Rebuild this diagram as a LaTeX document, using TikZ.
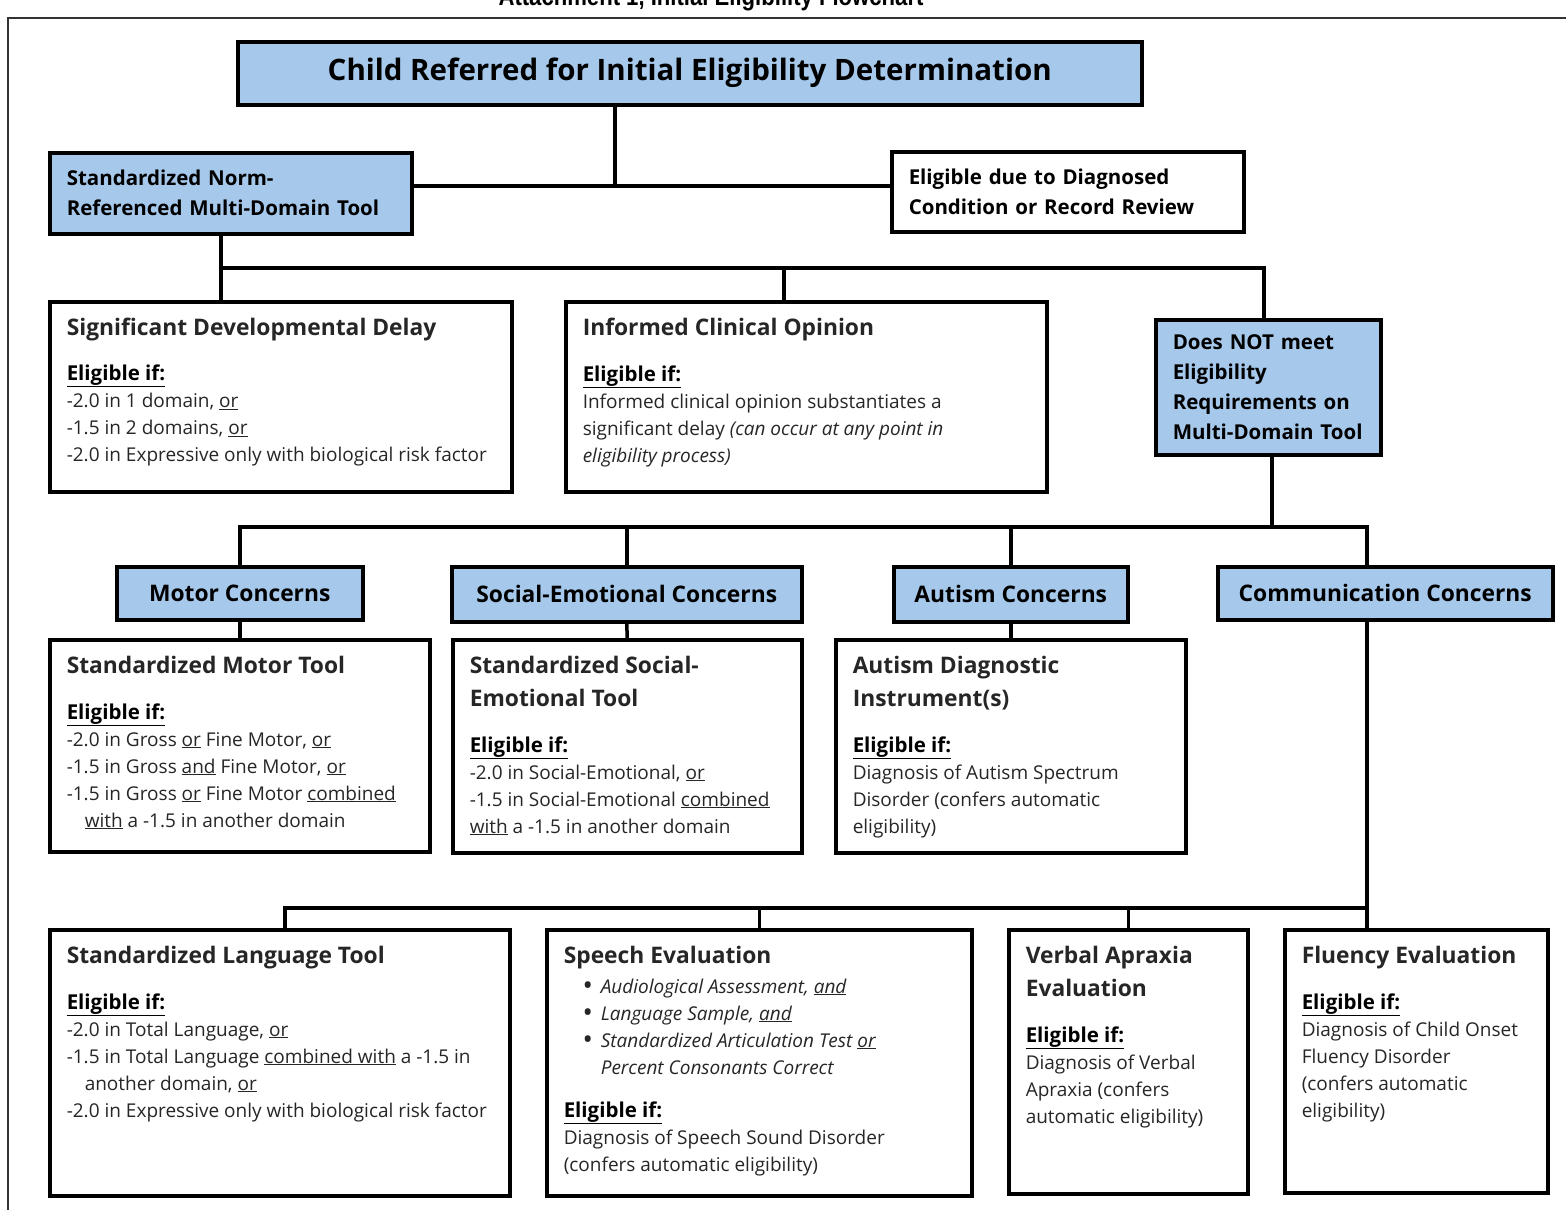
\documentclass[tikz,border=0pt]{standalone}
\usepackage{fontspec}
\setmainfont{Open Sans}
\newfontfamily\attfont[FakeStretch=0.85]{Liberation Sans}

\definecolor{boxblue}{RGB}{166,200,235}

\newcommand{\ttlfont}{\bfseries\fontsize{29.5}{34}\selectfont}
\newcommand{\hdfont}{\bfseries\fontsize{22.8}{33}\selectfont}
\newcommand{\bluefont}{\bfseries\fontsize{20.5}{30}\selectfont}
\newcommand{\bodyfont}{\fontsize{19}{27}\selectfont\color{black!85}}
\newcommand{\elig}{{\color{black}\bfseries\fontsize{20.5}{27}\selectfont\underline{Eligible if:}}}
\newcommand{\bul}{\hspace*{18pt}\makebox[19pt][l]{\raisebox{-2.5pt}{\scalebox{1.5}{\textbullet}}}}
% top aligned text inside a box of given outer size
\newcommand{\panel}[3]{\begin{minipage}[c][\dimexpr#2pt-32pt\relax][t]{\dimexpr#1pt-34pt\relax}\raggedright\bodyfont #3\end{minipage}}

\begin{document}
\begin{tikzpicture}[x=1pt, y=-1pt, line width=3.5pt,
  box/.style={draw, anchor=north west, inner xsep=17pt, inner ysep=16pt, fill=white},
  bluebox/.style={box, fill=boxblue},
  tag/.style={bluebox, inner sep=0pt, font=\hdfont, align=center},
  note/.style={box, inner ysep=0pt, font=\bluefont, align=left}]
  \useasboundingbox (0,0) rectangle (1566,1210);

  % page frame and cut title
  \draw[line width=1.5pt, black!80] (8,1210) -- (8,18) -- (1566,18);
  \node[font=\attfont\bfseries\fontsize{26}{30}\selectfont, anchor=base] (att) at (711,5) {Attachment 1, Initial Eligibility Flowchart};

  % first level
  \node[tag, minimum width=904pt, minimum height=63pt, font=\ttlfont] (child) at (236,40) {Child Referred for Initial Eligibility Determination};
  \node[note, fill=boxblue, text width=328pt, minimum height=81pt] (norm) at (48,151) {Standardized Norm-\\Referenced Multi-Domain Tool};
  \node[note, text width=318pt, minimum height=80pt] (diag) at (890,150) {Eligible due to Diagnosed\\Condition or Record Review};

  % results of the multi-domain tool
  \node[box] (sdd) at (48,300) {\panel{462}{190}{{\hdfont Significant Developmental Delay\par}\vspace{18pt}
    \elig\par
    -2.0 in 1 domain, \underline{or}\\
    -1.5 in 2 domains, \underline{or}\\
    -2.0 in Expressive only with biological risk factor}};
  \node[box] (ico) at (564,300) {\panel{481}{190}{{\hdfont Informed Clinical Opinion\par}\vspace{19pt}
    \elig\par
    Informed clinical opinion substantiates a\\
    significant delay \textit{(can occur at any point in}\\
    \textit{eligibility process)}}};
  \node[note, fill=boxblue, text width=191pt, minimum height=135pt] (notmeet) at (1154,318) {Does NOT meet\\Eligibility\\Requirements on\\Multi-Domain Tool};

  % concerns
  \node[tag, minimum width=246pt, minimum height=53pt] (motor) at (115,565) {Motor Concerns};
  \node[tag, minimum width=350pt, minimum height=55pt] (se) at (450,565) {Social-Emotional Concerns};
  \node[tag, minimum width=234pt, minimum height=55pt] (aut) at (892,565) {Autism Concerns};
  \node[tag, minimum width=335pt, minimum height=53pt] (comm) at (1216,565) {Communication Concerns};

  % tools
  \node[box] (smt) at (48,638) {\panel{380}{212}{{\hdfont Standardized Motor Tool\par}\vspace{19pt}
    \elig\par
    -2.0 in Gross \underline{or} Fine Motor, \underline{or}\\
    -1.5 in Gross \underline{and} Fine Motor, \underline{or}\\
    -1.5 in Gross \underline{or} Fine Motor \underline{combined}\\
    \hspace*{18pt}\underline{with} a -1.5 in another domain}};
  \node[box] (sset) at (451,638) {\panel{349}{213}{{\hdfont Standardized Social-\\Emotional Tool\par}\vspace{19pt}
    \elig\par
    -2.0 in Social-Emotional, \underline{or}\\
    -1.5 in Social-Emotional \underline{combined}\\
    \underline{with} a -1.5 in another domain}};
  \node[box] (adi) at (834,638) {\panel{350}{213}{{\hdfont Autism Diagnostic\\Instrument(s)\par}\vspace{19pt}
    \elig\par
    Diagnosis of Autism Spectrum\\
    Disorder (confers automatic\\
    eligibility)}};

  % communication evaluations
  \node[box] (slt) at (48,928) {\panel{460}{266}{{\hdfont Standardized Language Tool\par}\vspace{19pt}
    \elig\par
    -2.0 in Total Language, \underline{or}\\
    -1.5 in Total Language \underline{combined with} a -1.5 in\\
    \hspace*{18pt}another domain, \underline{or}\\
    -2.0 in Expressive only with biological risk factor}};
  \node[box] (speech) at (545,928) {\panel{425}{266}{{\hdfont Speech Evaluation\par}\vspace{3pt}
    \itshape
    \bul Audiological Assessment, \underline{and}\\
    \bul Language Sample, \underline{and}\\
    \bul Standardized Articulation Test \underline{or}\\
    \hspace*{37pt}Percent Consonants Correct\par\vspace{16pt}
    \upshape\elig\par
    Diagnosis of Speech Sound Disorder\\
    (confers automatic eligibility)}};
  \node[box] (verbal) at (1007,928) {\panel{239}{264}{{\hdfont Verbal Apraxia\\Evaluation\par}\vspace{19pt}
    \elig\par
    Diagnosis of Verbal\\
    Apraxia (confers\\
    automatic eligibility)}};
  \node[box] (fluency) at (1283,928) {\panel{263}{263}{{\hdfont Fluency Evaluation\par}\vspace{19pt}
    \elig\par
    Diagnosis of Child Onset\\
    Fluency Disorder\\
    (confers automatic\\
    eligibility)}};

  % connectors
  \coordinate (split) at (615,186);
  \draw (child.south -| split) -- (split);
  \draw (norm.east |- split) -- (diag.west |- split);

  \coordinate (b1l) at (221,268);
  \coordinate (b1m) at (784,268);
  \coordinate (b1r) at (1264,268);
  \draw (norm.south -| b1l) -- (sdd.north -| b1l);
  \draw (b1l) -- (b1r) -- (notmeet.north -| b1r);
  \draw (b1m) -- (ico.north -| b1m);

  \coordinate (b2l) at (238,527);
  \coordinate (b2s) at (1272,527);
  \coordinate (b2r) at (1367,527);
  \draw (notmeet.south -| b2s) -- (b2s);
  \draw (b2l) -- (b2r) -- (comm.north -| b2r);
  \foreach \n in {motor, se, aut}
    \draw (\n.north) -- (\n.north |- b2l);
  \draw (motor.south) -- (smt.north);
  \draw (se.south) -- (sset.north);
  \draw (aut.south) -- (adi.north);

  \coordinate (b3l) at (285,908);
  \coordinate (b3r) at (1367,908);
  \draw (comm.south -| b3r) -- (b3r) -- (b3l) -- (slt.north -| b3l);
  \draw (b3r) -- (fluency.north -| b3r);
  \draw (speech.north) -- (speech.north |- b3l);
  \draw (verbal.north) -- (verbal.north |- b3l);
\end{tikzpicture}
\end{document}
